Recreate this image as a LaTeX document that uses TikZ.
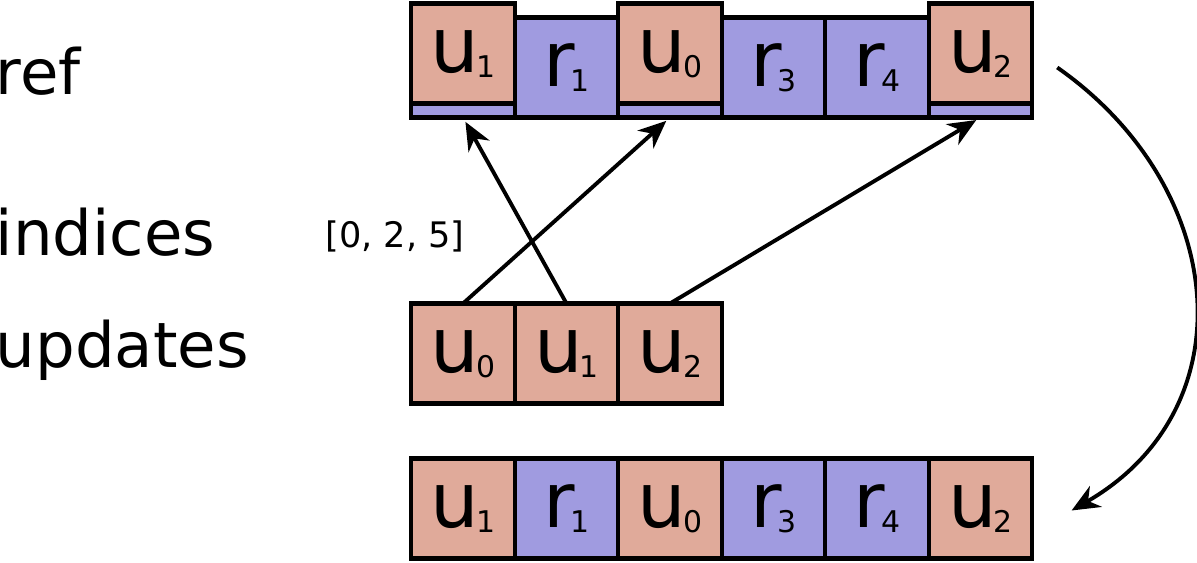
\documentclass[tikz,border=0pt]{standalone}
\usepackage{fontspec}
\setmainfont{DejaVu Sans}
\usetikzlibrary{positioning}
\usetikzlibrary{arrows.meta}
\definecolor{updfill}{RGB}{224,170,154}
\definecolor{reffill}{RGB}{160,155,224}
\newcommand{\cellsub}[1]{\kern-1.0pt\raisebox{-1.4pt}{\fontsize{8.5}{10}\selectfont #1}}
\tikzset{
    cell/.style = {rectangle, line width=1.2pt, draw=black, inner sep=0pt, outer sep=0pt, minimum width=1.035cm, minimum height=1.0cm, font=\fontsize{21.8}{26}\selectfont},
    cellu/.style = {cell, fill=updfill},
    cellr/.style = {cell, fill=reffill},
    lbl/.style = {anchor=base west, inner sep=0pt, font=\fontsize{17.8}{22}\selectfont},
    edgen/.style = {-{Stealth[length=2.8mm,width=2.4mm,inset=0.9mm]}, line width=1.1pt, shorten >=0.5mm},
}
\begin{document}
\begin{tikzpicture}[scale=1.00,transform shape]
\useasboundingbox (0,0) rectangle (11.97,5.63);
%
\node[lbl] (lref) at (-0.05, 4.68) {ref};
\node[lbl] (lind) at (-0.05, 3.07) {indices};
\node[lbl] (lupd) at (-0.05, 1.95) {updates};
\node[anchor=base, inner sep=0pt, font=\fontsize{10}{12}\selectfont] (idx) at (3.95, 3.15) {[0, 2, 5]};
%
\node[cellr] at (4.63, 4.955) (ref0) {};
\node[cellr, right=0pt of ref0] (ref1) {r\cellsub{1}};
\node[cellr, right=0pt of ref1] (ref2) {};
\node[cellr, right=0pt of ref2] (ref3) {r\cellsub{3}};
\node[cellr, right=0pt of ref3] (ref4) {r\cellsub{4}};
\node[cellr, right=0pt of ref4] (ref5) {};
%
\node[cellu] at ([yshift=1.4mm]ref0) (new0) {u\cellsub{1}};
\node[cellu] at ([yshift=1.4mm]ref2) (new2) {u\cellsub{0}};
\node[cellu] at ([yshift=1.4mm]ref5) (new5) {u\cellsub{2}};
%
\node[cellu] at (4.63, 2.095) (upd0) {u\cellsub{0}};
\node[cellu, right=0pt of upd0] (upd1) {u\cellsub{1}};
\node[cellu, right=0pt of upd1] (upd2) {u\cellsub{2}};
%
\node[cellu] at (4.63, 0.545) (res0) {u\cellsub{1}};
\node[cellr, right=0pt of res0] (res1) {r\cellsub{1}};
\node[cellu, right=0pt of res1] (res2) {u\cellsub{0}};
\node[cellr, right=0pt of res2] (res3) {r\cellsub{3}};
\node[cellr, right=0pt of res3] (res4) {r\cellsub{4}};
\node[cellu, right=0pt of res4] (res5) {u\cellsub{2}};
%
\draw[edgen] (upd1.north) -- (ref0.south);
\draw[edgen] (upd0.north) -- (ref2.south);
\draw[edgen] (upd2.north) -- (ref5.south);
\draw[edgen] ([xshift=2.5mm]ref5.east) to[out=-35,in=30,looseness=1.2] ([xshift=3.5mm,yshift=-0.45mm]res5.east);

\end{tikzpicture}
\end{document}
